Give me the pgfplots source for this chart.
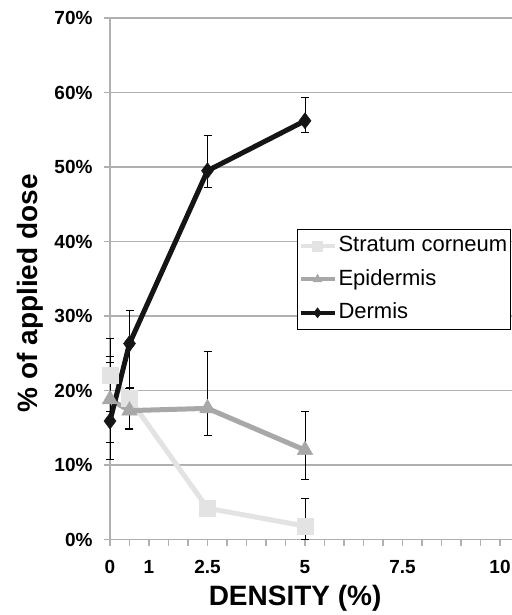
\documentclass[border=0pt]{standalone}
\usepackage{pgfplots}
\pgfplotsset{compat=1.18}
\usepackage{pgfplotstable}
\usepackage{fontspec}
\setmainfont{Liberation Sans}
\definecolor{scc}{HTML}{E3E3E3}
\definecolor{epc}{HTML}{A8A8A8}
\definecolor{dec}{HTML}{151515}
\definecolor{gridc}{HTML}{B0B0B0}
\newcommand{\lstrut}{\rule{0pt}{22.5pt}}
\tikzset{xlabelnode/.style={font=\fontsize{19}{21}\selectfont\bfseries, anchor=center, yshift=-27.5pt, inner sep=0pt}}
\pgfplotstableread{
x y ep em
0 22.1 4.9 4.9
0.5 18.9 1.5 4.0
2.5 4.2 0.8 0.8
5 1.8 3.7 1.8
}\sc
\pgfplotstableread{
x y ep em
0 18.8 5.8 5.8
0.5 17.3 3.0 2.5
2.5 17.6 7.6 3.6
5 12.0 5.2 4.0
}\ep
\pgfplotstableread{
x y ep em
0 15.9 7.8 5.1
0.5 26.3 4.4 6.0
2.5 49.5 4.8 2.2
5 56.2 3.1 1.6
}\de
\begin{document}
\begin{tikzpicture}
\begin{axis}[
  scale only axis,
  width=409.5pt, height=521.5pt,
  xmin=0, xmax=10.5, ymin=0, ymax=70,
  axis x line*=bottom, axis y line*=left,
  axis line style={draw=gridc, line width=1.2pt, -},
  xtick={0,1,2.5,5,7.5,10},
  xticklabels={},
  minor xtick={0.5,1.5,2,3,3.5,4,4.5,5.5,6,6.5,7,8,8.5,9,9.5,10},
  ytick={0,10,20,30,40,50,60,70},
  yticklabels={0\%,10\%,20\%,30\%,40\%,50\%,60\%,70\%},
  tick style={draw=gridc, line width=1.2pt},
  tick align=outside,
  major tick length=6pt, minor tick length=6pt,
  ymajorgrids,
  major grid style={draw=gridc, line width=1.2pt},
  ticklabel style={font=\fontsize{19}{21}\selectfont\bfseries},
  yticklabel shift=8pt,
  xlabel={DENSITY (\%)},
  ylabel={\% of applied dose},
  xlabel style={font=\fontsize{28}{30}\selectfont\bfseries, at={(axis description cs:0.452,-0.112)}, anchor=center},
  ylabel style={font=\fontsize{28}{30}\selectfont\bfseries, at={(axis description cs:-0.195,0.472)}, anchor=center},
  clip=false,
  legend style={at={(axis description cs:0.457,0.596)}, anchor=north west, draw=black, line width=0.8pt,
    font=\fontsize{22}{26}\selectfont, inner xsep=1pt, inner ysep=0pt, fill=white,
    nodes={inner ysep=0pt, inner xsep=2pt, text depth=11pt}},
  legend cell align=left,
  legend image code/.code={%
    \draw[mark repeat=2, mark phase=2, #1] plot coordinates {(0pt,0pt) (17pt,0pt) (34pt,0pt)};},
  legend image post style={line width=4pt, mark size=5pt},
  error bars/y dir=both, error bars/y explicit,
  error bars/error bar style={black, line width=0.9pt},
  error bars/error mark options={rotate=90, mark size=4pt, black, line width=0.9pt},
]
\addplot[color=scc, line width=5pt, mark=square*, mark size=8pt, mark options={fill=scc, draw=scc, line width=0.5pt}]
  table[x=x, y=y, y error plus=ep, y error minus=em] {\sc};
\addlegendentry{\lstrut Stratum corneum}
\addplot[color=epc, line width=5pt, mark=triangle*, mark size=9pt, mark options={fill=epc, draw=epc, line width=0.5pt}]
  table[x=x, y=y, y error plus=ep, y error minus=em] {\ep};
\addlegendentry{\lstrut Epidermis}
\addplot[color=dec, line width=5pt, mark=diamond*, mark size=8pt, mark options={fill=dec, draw=dec, line width=0.5pt}]
  table[x=x, y=y, y error plus=ep, y error minus=em] {\de};
\addlegendentry{\lstrut Dermis}
\node[xlabelnode] at (axis cs:0,0) {0};
\node[xlabelnode] at (axis cs:1,0) {1};
\node[xlabelnode] at (axis cs:2.5,0) {2.5};
\node[xlabelnode] at (axis cs:5,0) {5};
\node[xlabelnode] at (axis cs:7.5,0) {7.5};
\node[xlabelnode] at (axis cs:10,0) {10};
\end{axis}
\pgfresetboundingbox
\useasboundingbox (-110pt,-75.5pt) rectangle (401pt,539.5pt);
\end{tikzpicture}
\end{document}
